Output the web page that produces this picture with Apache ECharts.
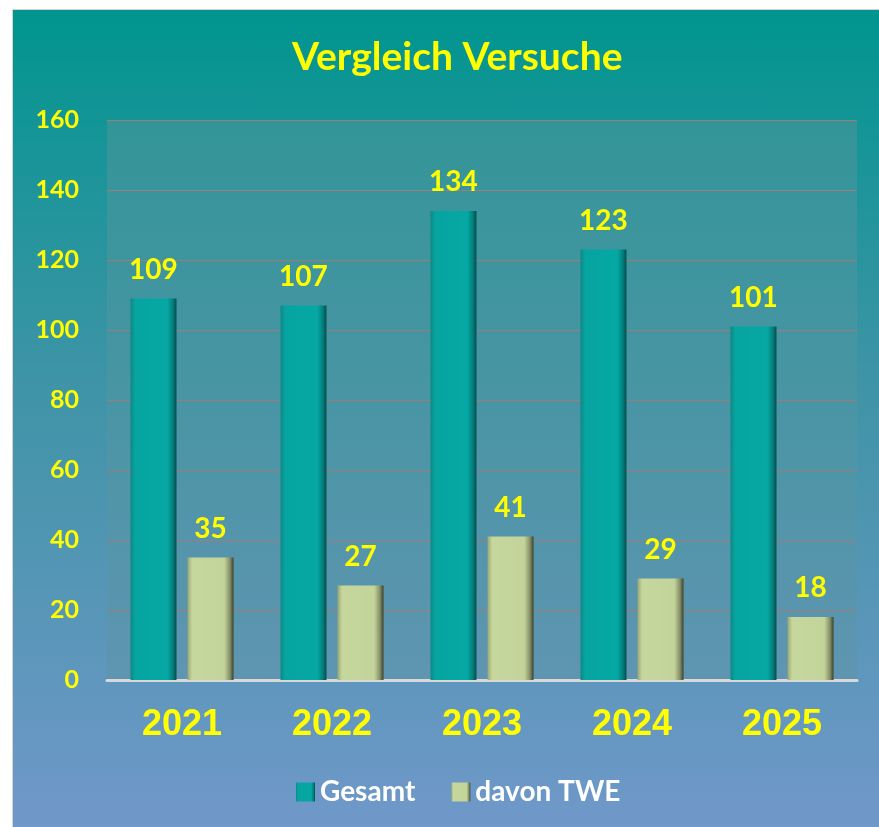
<!DOCTYPE html>
<html>
<head>
<meta charset="utf-8">
<script src="https://cdn.jsdelivr.net/npm/echarts@6/dist/echarts.min.js"></script>
<style>
  html, body { margin: 0; padding: 0; background: #ffffff; }
  #chart {
    position: absolute;
    left: 12px;
    top: 9px;
    width: 867px;
    height: 818px;
    border-left: 1px solid #d4d4d4;
    border-top: 1px solid #d4d4d4;
    background: linear-gradient(to bottom, #00958f 0%, #3e94a6 45%, #7098c9 100%);
  }
</style>
</head>
<body>
<div id="chart"></div>
<script>
const years = ['2021', '2022', '2023', '2024', '2025'];
const gesamt = [109, 107, 134, 123, 101];
const davonTWE = [35, 27, 41, 29, 18];
const yTicks = { min: 0, max: 160, interval: 20 };

const chart = echarts.init(document.getElementById('chart'), null, { renderer: 'canvas' });

// horizontal gradient to fake the bevelled 3D bars
const bevel = (stops) => new echarts.graphic.LinearGradient(0, 0, 1, 0, stops);

const gesamtFill = bevel([
  { offset: 0, color: '#0b8986' },
  { offset: 0.1, color: '#07a4a0' },
  { offset: 0.8, color: '#05a8a4' },
  { offset: 0.92, color: '#047e7b' },
  { offset: 1, color: '#034d4c' }
]);
const tweFill = bevel([
  { offset: 0, color: '#98a676' },
  { offset: 0.1, color: '#c5d79d' },
  { offset: 0.8, color: '#c2d49a' },
  { offset: 0.92, color: '#87916a' },
  { offset: 1, color: '#3c4127' }
]);

const labelStyle = {
  show: true,
  position: 'top',
  distance: 15,
  color: '#ffff00',
  fontFamily: 'Lato',
  fontWeight: 'bold',
  fontSize: 28
};

const option = {
  backgroundColor: 'transparent',
  animation: false,
  title: {
    text: 'Vergleich Versuche',
    left: 274,
    top: 23,
    padding: [5, 5, 5, 5],
    textStyle: {
      color: '#ffff00',
      fontFamily: 'Lato',
      fontWeight: 'bold',
      fontSize: 39
    }
  },
  legend: {
    data: ['Gesamt', 'davon TWE'],
    left: 278,
    top: 763,
    icon: 'rect',
    itemWidth: 19,
    itemHeight: 19,
    itemGap: 36,
    textStyle: {
      color: '#ffffff',
      fontFamily: 'Lato',
      fontWeight: 'bold',
      fontSize: 28
    }
  },
  grid: {
    left: 94,
    top: 110,
    width: 750,
    height: 560,
    show: true,
    borderWidth: 0,
    backgroundColor: new echarts.graphic.LinearGradient(0, 0, 0, 1, [
      { offset: 0, color: '#339598' },
      { offset: 1, color: '#5f95b1' }
    ])
  },
  xAxis: {
    type: 'category',
    data: years,
    axisTick: { show: false },
    axisLine: { show: true, lineStyle: { color: '#d9d9d9', width: 3 } },
    axisLabel: {
      margin: 27,
      color: '#ffff00',
      fontFamily: 'Liberation Sans',
      fontWeight: 'bold',
      fontSize: 36
    }
  },
  yAxis: {
    type: 'value',
    min: yTicks.min,
    max: yTicks.max,
    interval: yTicks.interval,
    axisLine: { show: false },
    axisTick: { show: false },
    splitLine: { lineStyle: { color: '#9a7d7b', width: 1 } },
    axisLabel: {
      margin: 28,
      color: '#ffff00',
      fontFamily: 'Lato',
      fontWeight: 'bold',
      fontSize: 25
    }
  },
  series: [
    {
      name: 'Gesamt',
      type: 'bar',
      data: gesamt,
      barWidth: 46,
      barGap: '24%',
      itemStyle: { color: gesamtFill },
      label: labelStyle
    },
    {
      name: 'davon TWE',
      type: 'bar',
      data: davonTWE,
      barWidth: 46,
      itemStyle: { color: tweFill },
      label: labelStyle
    }
  ]
};

chart.setOption(option);
window.addEventListener('resize', () => chart.resize());
</script>
</body>
</html>
